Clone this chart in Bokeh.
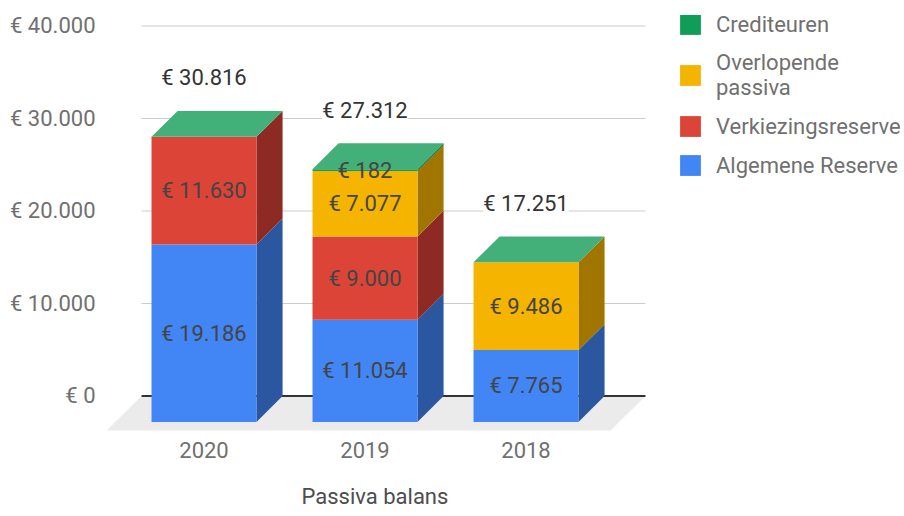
from bokeh.plotting import figure
from bokeh.models import Range1d, FixedTicker, ColumnDataSource, LabelSet, Legend, LegendItem, Title
from bokeh.core.properties import value
from bokeh.embed import file_html
from bokeh.resources import INLINE

# ---- data ----
categories = ["2020", "2019", "2018"]
algemene_reserve = [19186, 11054, 7765]
verkiezingsreserve = [11630, 9000, 0]
overlopende_passiva = [0, 7077, 9486]
crediteuren = [0, 182, 0]
totals = [30816, 27312, 17251]
y_ticks = [0, 10000, 20000, 30000, 40000]
series_names = ["Algemene Reserve", "Verkiezingsreserve", "Overlopende passiva", "Crediteuren"]
legend_labels = ["Algemene Reserve", "Verkiezingsreserve", "Overlopende\npassiva", "Crediteuren"]
x_title = "Passiva balans"

# ---- style ----
FRONT = ["#4285F4", "#DB4437", "#F4B400", "#0F9D58"]
SIDE = ["#2B57A0", "#8D2A23", "#A07500", "#0A6B3C"]
TOP = "#43B07A"
BAR_W = 0.652
DX = 0.162          # 3D depth in x (category units)
DY = 2800           # 3D depth in y (value units)
FLOOR_DX = 0.217
FLOOR_DY = 3730
PLANE_L, PLANE_R = -0.388, 2.742
LABEL_GAP = 3568
FONT = "Roboto"
FS = "22px"

def eur(v):
    return "€ " + f"{v:,}".replace(",", ".")

values = [algemene_reserve, verkiezingsreserve, overlopende_passiva, crediteuren]
xs = list(range(len(categories)))

p = figure(width=904, height=516, output_backend="svg", toolbar_location=None,
           x_range=Range1d(-0.6429, 4.3509), y_range=Range1d(-4270.3, 41135.1),
           min_border_left=100, min_border_right=0, min_border_top=15, min_border_bottom=81)
p.outline_line_color = None
p.xgrid.visible = False
p.ygrid.visible = False
p.background_fill_color = "white"
p.border_fill_color = "white"

# floor
p.patch([PLANE_L, PLANE_R, PLANE_R - FLOOR_DX, PLANE_L - FLOOR_DX],
        [0, 0, -FLOOR_DY, -FLOOR_DY], fill_color="#EBEBEB", line_color=None)
# gridlines
gl = [t for t in y_ticks if t != 0]
p.segment(x0=[PLANE_L] * len(gl), x1=[PLANE_R] * len(gl), y0=gl, y1=gl,
          line_color="#CCCCCC", line_width=1)
p.segment(x0=[PLANE_L], x1=[PLANE_R], y0=[0], y1=[0], line_color="#333333", line_width=2)

# bars
left = [x - BAR_W / 2 for x in xs]
right = [x + BAR_W / 2 for x in xs]
cum = [0] * len(xs)
front_renderers = []
seg_lx, seg_ly, seg_txt = [], [], []
for si, vals in enumerate(values):
    bottoms = [c - DY for c in cum]
    tops = [c + v - DY for c, v in zip(cum, vals)]
    sxs = [[r, r + DX, r + DX, r] for r in right]
    sys = [[b, b + DY, t + DY, t] for b, t in zip(bottoms, tops)]
    p.patches(sxs, sys, fill_color=SIDE[si], line_color=None)
    src = ColumnDataSource(dict(left=left, right=right, bottom=bottoms, top=tops))
    r = p.quad(left="left", right="right", bottom="bottom", top="top", source=src,
               fill_color=FRONT[si], line_color=None)
    front_renderers.append(r)
    for x, b, t, v in zip(xs, bottoms, tops, vals):
        if v > 0:
            seg_lx.append(x)
            seg_ly.append((b + t) / 2)
            seg_txt.append(eur(v))
    cum = [c + v for c, v in zip(cum, vals)]

# top faces
txs = [[l, l + DX, r + DX, r] for l, r in zip(left, right)]
tys = [[c - DY, c, c, c - DY] for c in cum]
p.patches(txs, tys, fill_color=TOP, line_color=None)

# segment labels
seg_src = ColumnDataSource(dict(x=seg_lx, y=seg_ly, t=seg_txt))
p.add_layout(LabelSet(x="x", y="y", text="t", source=seg_src, text_align="center",
                      text_baseline="middle", text_font=value(FONT), text_font_size=FS,
                      text_color="#444444"))
# total labels
tot_src = ColumnDataSource(dict(x=xs, y=[c + LABEL_GAP for c in cum], t=[eur(v) for v in totals]))
p.add_layout(LabelSet(x="x", y="y", text="t", source=tot_src, text_align="center",
                      text_baseline="middle", text_font=value(FONT), text_font_size=FS,
                      text_color="#333333", background_fill_color="white"))

# axes
p.yaxis.ticker = FixedTicker(ticks=y_ticks)
p.yaxis.major_label_overrides = {t: eur(t) for t in y_ticks}
p.yaxis.axis_line_color = None
p.yaxis.major_tick_line_color = None
p.yaxis.minor_tick_line_color = None
p.yaxis.major_tick_out = 0
p.yaxis.major_tick_in = 0
p.yaxis.minor_tick_out = 0
p.yaxis.major_label_standoff = 5
p.yaxis.major_label_text_font = FONT
p.yaxis.major_label_text_font_size = FS
p.yaxis.major_label_text_color = "#707070"

p.xaxis.ticker = FixedTicker(ticks=xs)
p.xaxis.major_label_overrides = {x: c for x, c in zip(xs, categories)}
p.xaxis.axis_line_color = None
p.xaxis.major_tick_line_color = None
p.xaxis.minor_tick_line_color = None
p.xaxis.major_tick_out = 0
p.xaxis.major_tick_in = 0
p.xaxis.minor_tick_out = 0
p.xaxis.major_label_standoff = 6
p.xaxis.major_label_text_font = FONT
p.xaxis.major_label_text_font_size = FS
p.xaxis.major_label_text_color = "#707070"

# spacer between the tick labels and the x-axis title
p.add_layout(Title(text=" ", standoff=0, text_font=FONT, text_font_size="16px"), "below")
# x-axis title, aligned under the bars (not under the whole plot area)
t = Title(text=x_title, align="left", offset=201, standoff=0,
          text_font=FONT, text_font_size=FS, text_font_style="normal",
          text_color="#4d4d4d")
p.add_layout(t, "below")

# legend (inside the plot area, at its right)
items = [LegendItem(label=legend_labels[i], renderers=[front_renderers[i]]) for i in [3, 2, 1, 0]]
legend = Legend(items=items, location=(577, 257), glyph_width=26, glyph_height=26,
                label_standoff=13, spacing=13, padding=0, margin=0,
                border_line_color=None, background_fill_alpha=0,
                label_text_font=FONT, label_text_font_size=FS,
                label_text_color="#707070", label_text_line_height=0.85)
p.add_layout(legend)

open("out.html", "w").write(file_html(p, INLINE))
